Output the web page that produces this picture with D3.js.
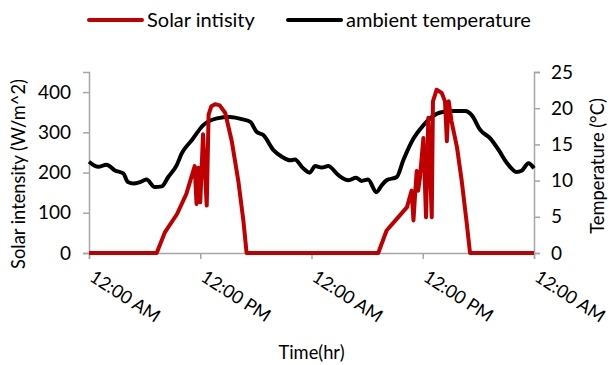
<!DOCTYPE html>
<html>
<head>
<meta charset="utf-8">
<script src="https://cdn.jsdelivr.net/npm/d3@7"></script>
<style>
  body { margin: 0; background: #fff; }
  svg text { font-family: Lato, "Open Sans", sans-serif; fill: #000; }
</style>
</head>
<body>
<div id="chart"></div>
<script>
// hours since first midnight
const solarHours = [0, 7.3, 8.2, 9.5, 10.5, 11.4, 11.6, 11.8, 12.0, 12.3, 12.7, 12.9, 13.2, 13.6, 14.1, 14.7, 15.4, 16.1, 16.65, 17.0,
    31.2, 32.1, 33.2, 34.3, 34.8, 35.0, 35.2, 35.35, 35.5, 35.7, 36.07, 36.35, 36.6, 36.97, 37.1, 37.5, 38.05, 38.4, 38.6, 38.8, 39.1, 39.7, 40.2, 40.75, 41.1, 48];
const solarValues = [0, 0, 52, 97, 147, 216, 122, 212, 126, 295, 118, 344, 365, 370, 367, 348, 278, 180, 81, 0,
    0, 56, 85, 114, 155, 81, 155, 204, 155, 188, 286, 89, 336, 89, 377, 406, 398, 377, 278, 377, 328, 262, 180, 73, 0, 0];

const tempHours = [0, 1.0, 1.9, 2.8, 3.7, 4.2, 4.8, 5.5, 6.2, 7.1, 7.85, 8.55, 9.45, 10.0, 11.1, 12.35, 13.8, 15.2, 16.6, 17.4,
    18.1, 18.8, 19.9, 20.8, 21.7, 22.2, 23.1, 23.8, 24.4, 25.1, 25.8, 26.9, 28.0, 28.8, 29.4, 30.1, 31.0, 31.6, 32.1, 33.2,
    33.9, 35.0, 36.1, 37.2, 37.9, 39.1, 40.6, 41.3, 42.2, 43.3, 44.2, 45.1, 46.1, 46.7, 47.4, 48];
const tempValues = [12.6, 11.9, 12.2, 11.4, 11.0, 9.8, 9.6, 9.8, 10.15, 9.1, 9.2, 10.5, 12.1, 13.75, 15.6, 17.7, 18.6, 18.8, 18.45, 18.1,
    16.7, 16.3, 14.2, 13.3, 12.8, 12.9, 11.7, 11.1, 12.0, 11.8, 12.0, 10.75, 10.05, 10.4, 9.96, 10.15, 8.4, 9.4, 10.05, 10.5,
    12.8, 15.8, 17.7, 19.0, 19.4, 19.6, 19.6, 19.0, 17.0, 15.8, 14.2, 12.4, 11.2, 11.4, 12.4, 11.7];

const timeTicks = [0, 12, 24, 36, 48];
const timeLabels = ['12:00 AM', '12:00 PM', '12:00 AM', '12:00 PM', '12:00 AM'];
const solarTicks = [0, 100, 200, 300, 400];
const tempTicks = [0, 5, 10, 15, 20, 25];

const W = 609, H = 365;
const margin = { top: 72, right: 75, bottom: 112, left: 89 };
const width = W - margin.left - margin.right;
const height = H - margin.top - margin.bottom;
const axisColor = '#a6a6a6';

const svg = d3.select('#chart').append('svg')
    .attr('width', W)
    .attr('height', H);

const g = svg.append('g')
    .attr('transform', `translate(${margin.left},${margin.top})`);

const x = d3.scaleLinear().domain([0, 48]).range([0, width]);
const yL = d3.scaleLinear().domain([0, 450]).range([height, 0]);
const yR = d3.scaleLinear().domain([0, 25]).range([height, 0]);

// axes
const leftAxis = g.append('g')
    .call(d3.axisLeft(yL).tickValues(solarTicks).tickSize(6).tickPadding(12));
const rightAxis = g.append('g')
    .attr('transform', `translate(${width},0)`)
    .call(d3.axisRight(yR).tickValues(tempTicks).tickSize(6).tickPadding(11));
const bottomAxis = g.append('g')
    .attr('transform', `translate(0,${height})`)
    .call(d3.axisBottom(x).tickValues(timeTicks).tickSize(6).tickFormat((d, i) => timeLabels[i]));

[leftAxis, rightAxis, bottomAxis].forEach((a) => {
    a.select('.domain').attr('stroke', axisColor).attr('stroke-width', 1.5);
    a.selectAll('.tick line').attr('stroke', axisColor).attr('stroke-width', 1.5);
    a.selectAll('.tick text').style('font-size', '19px').attr('fill', '#000');
});

bottomAxis.selectAll('.tick text')
    .style('font-size', '18px')
    .attr('text-anchor', 'start')
    .attr('dy', null)
    .attr('y', 0)
    .attr('transform', 'translate(-1,27) rotate(33)');

// lines
const solarLine = d3.line()
    .x((d, i) => x(solarHours[i]))
    .y((d) => yL(d));
const tempLine = d3.line()
    .x((d, i) => x(tempHours[i]))
    .y((d) => yR(d))
    .curve(d3.curveMonotoneX);

g.append('path')
    .datum(tempValues)
    .attr('d', tempLine)
    .attr('fill', 'none')
    .attr('stroke', '#000')
    .attr('stroke-width', 4)
    .attr('stroke-linejoin', 'round');

g.append('path')
    .datum(solarValues)
    .attr('d', solarLine)
    .attr('fill', 'none')
    .attr('stroke', '#c00000')
    .attr('stroke-width', 4)
    .attr('stroke-linejoin', 'round');

// axis titles
svg.append('text')
    .attr('transform', `translate(25,174) rotate(-90)`)
    .attr('text-anchor', 'middle')
    .style('font-size', '18.3px')
    .text('Solar intensity (W/m^2)');

svg.append('text')
    .attr('transform', `translate(604,166) rotate(-90)`)
    .attr('text-anchor', 'middle')
    .style('font-size', '18.3px')
    .text('Temperature (°C)');

svg.append('text')
    .attr('x', margin.left + width / 2)
    .attr('y', 359)
    .attr('text-anchor', 'middle')
    .style('font-size', '18.3px')
    .text('Time(hr)');

// legend
const legend = [
    { label: 'Solar intisity', color: '#c00000', x: 89 },
    { label: 'ambient temperature', color: '#000', x: 288 }
];
const lg = svg.append('g').selectAll('g').data(legend).enter().append('g')
    .attr('transform', (d) => `translate(${d.x},20)`);
lg.append('line')
    .attr('x1', 0).attr('x2', 53)
    .attr('stroke', (d) => d.color)
    .attr('stroke-width', 4)
    .attr('stroke-linecap', 'round');
lg.append('text')
    .attr('x', 58)
    .attr('y', 7)
    .style('font-size', '20px')
    .text((d) => d.label);
</script>
</body>
</html>
